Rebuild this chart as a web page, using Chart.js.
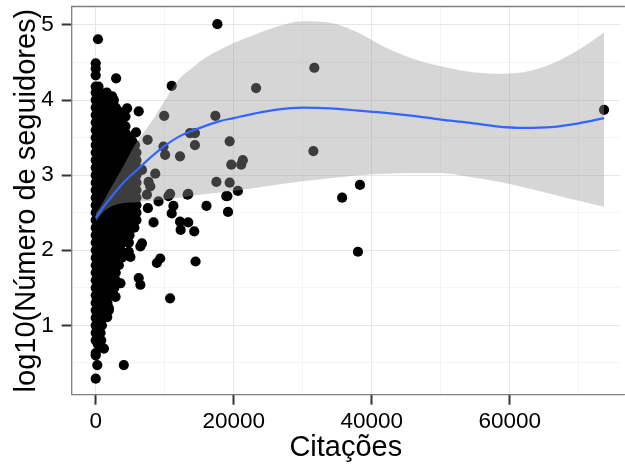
<!DOCTYPE html>
<html><head><meta charset="utf-8">
<script src="https://cdn.jsdelivr.net/npm/chart.js@4.4.1/dist/chart.umd.min.js"></script>
<style>html,body{margin:0;padding:0;background:#fff;overflow:hidden}#wrap{width:625px;height:470px;position:relative}</style>
</head><body><div id="wrap"><canvas id="c"></canvas></div>
<script>
// Tick positions
const xMajorTicks = [0, 20000, 40000, 60000];
const xMinorTicks = [10000, 30000, 50000, 70000];
const yMajorTicks = [1, 2, 3, 4, 5];
const yMinorTicks = [0.5, 1.5, 2.5, 3.5, 4.5];

// Dense cluster near zero citations
const denseCitations = [
  0, 0, 0, 0, 400, 0, 700, 1600, 2390,
  0, 900, 1900, 2630,
  450, 1400, 2400,
  0, 900, 1900, 2900,
  450, 1400, 2400, 3300,
  0, 900, 1900, 2900, 3700,
  450, 1400, 2400, 3300,
  0, 900, 1900, 2900, 3800,
  450, 1400, 2400, 3400,
  0, 900, 1900, 2900, 3900,
  450, 1400, 2400, 3400, 4400,
  0, 900, 1900, 2900, 3900, 4900,
  450, 1400, 2400, 3400, 4400, 5300,
  0, 900, 1900, 2900, 3900, 4900, 5700,
  450, 1400, 2400, 3400, 4400, 5400,
  0, 900, 1900, 2900, 3900, 4900, 5900,
  450, 1400, 2400, 3400, 4400, 5400,
  0, 900, 1900, 2900, 3900, 4900, 5900,
  450, 1400, 2400, 3400, 4400, 5400,
  0, 900, 1900, 2900, 3900, 4900, 5900,
  450, 1400, 2400, 3400, 4400, 5400,
  0, 900, 1900, 2900, 3900, 4900, 5900,
  450, 1400, 2400, 3400, 4400, 5400,
  0, 900, 1900, 2900, 3900, 4900, 5900,
  450, 1400, 2400, 3400, 4400, 5400,
  0, 900, 1900, 2900, 3900, 4900, 5900,
  450, 1400, 2400, 3400, 4400, 5400,
  0, 900, 1900, 2900, 3900, 4900, 5900,
  450, 1400, 2400, 3400, 4400, 5400,
  0, 900, 1900, 2900, 3900, 4900, 5900,
  450, 1400, 2400, 3400, 4400, 5400,
  0, 900, 1900, 2900, 3900, 4900, 5900,
  450, 1400, 2400, 3400, 4400, 5400,
  0, 900, 1900, 2900, 3900, 4900, 5900,
  450, 1400, 2400, 3400, 4400, 5300,
  0, 900, 1900, 2900, 3900, 4900, 5600,
  450, 1400, 2400, 3400, 4400,
  0, 900, 1900, 2900, 3900, 4900,
  450, 1400, 2400, 3400, 4400,
  0, 900, 1900, 2900, 3900, 4800,
  450, 1400, 2400, 3300,
  0, 900, 1900, 2900, 3600,
  450, 1400, 2400, 3300,
  0, 900, 1900, 2900, 3800,
  450, 1400, 2400,
  0, 900, 1900, 2900,
  450, 1400, 2400,
  0, 900, 1900, 2900,
  450, 1400, 2400,
  0, 900, 1900, 2900,
  450, 1400, 2300,
  0, 900, 1900, 2700,
  450, 1400, 2300,
  0, 900, 1900, 2600,
  450, 1300,
  0, 900, 1700,
  450, 1300,
  0, 900, 1900,
  450, 1300,
  0, 900,
  450,
  0, 900,
  450,
  0, 700,
  400,
  0, 800,
  300,
  0
];
const denseFollowers = [
  4.49, 4.42, 4.33, 4.18, 4.18, 4.10, 4.10, 4.10, 4.05,
  4.00, 4.00, 4.00, 4.00,
  3.95, 3.95, 3.95,
  3.90, 3.90, 3.90, 3.90,
  3.85, 3.85, 3.85, 3.85,
  3.80, 3.80, 3.80, 3.80, 3.80,
  3.75, 3.75, 3.75, 3.75,
  3.70, 3.70, 3.70, 3.70, 3.70,
  3.65, 3.65, 3.65, 3.65,
  3.60, 3.60, 3.60, 3.60, 3.60,
  3.55, 3.55, 3.55, 3.55, 3.55,
  3.50, 3.50, 3.50, 3.50, 3.50, 3.50,
  3.45, 3.45, 3.45, 3.45, 3.45, 3.45,
  3.40, 3.40, 3.40, 3.40, 3.40, 3.40, 3.40,
  3.35, 3.35, 3.35, 3.35, 3.35, 3.35,
  3.30, 3.30, 3.30, 3.30, 3.30, 3.30, 3.30,
  3.25, 3.25, 3.25, 3.25, 3.25, 3.25,
  3.20, 3.20, 3.20, 3.20, 3.20, 3.20, 3.20,
  3.15, 3.15, 3.15, 3.15, 3.15, 3.15,
  3.10, 3.10, 3.10, 3.10, 3.10, 3.10, 3.10,
  3.05, 3.05, 3.05, 3.05, 3.05, 3.05,
  3.00, 3.00, 3.00, 3.00, 3.00, 3.00, 3.00,
  2.95, 2.95, 2.95, 2.95, 2.95, 2.95,
  2.90, 2.90, 2.90, 2.90, 2.90, 2.90, 2.90,
  2.85, 2.85, 2.85, 2.85, 2.85, 2.85,
  2.80, 2.80, 2.80, 2.80, 2.80, 2.80, 2.80,
  2.75, 2.75, 2.75, 2.75, 2.75, 2.75,
  2.70, 2.70, 2.70, 2.70, 2.70, 2.70, 2.70,
  2.65, 2.65, 2.65, 2.65, 2.65, 2.65,
  2.60, 2.60, 2.60, 2.60, 2.60, 2.60, 2.60,
  2.55, 2.55, 2.55, 2.55, 2.55, 2.55,
  2.50, 2.50, 2.50, 2.50, 2.50, 2.50, 2.50,
  2.45, 2.45, 2.45, 2.45, 2.45, 2.45,
  2.40, 2.40, 2.40, 2.40, 2.40, 2.40, 2.40,
  2.35, 2.35, 2.35, 2.35, 2.35, 2.35,
  2.30, 2.30, 2.30, 2.30, 2.30, 2.30, 2.30,
  2.25, 2.25, 2.25, 2.25, 2.25,
  2.20, 2.20, 2.20, 2.20, 2.20, 2.20,
  2.15, 2.15, 2.15, 2.15, 2.15,
  2.10, 2.10, 2.10, 2.10, 2.10, 2.10,
  2.05, 2.05, 2.05, 2.05,
  2.00, 2.00, 2.00, 2.00, 2.00,
  1.95, 1.95, 1.95, 1.95,
  1.90, 1.90, 1.90, 1.90, 1.90,
  1.85, 1.85, 1.85,
  1.80, 1.80, 1.80, 1.80,
  1.75, 1.75, 1.75,
  1.70, 1.70, 1.70, 1.70,
  1.65, 1.65, 1.65,
  1.60, 1.60, 1.60, 1.60,
  1.55, 1.55, 1.55,
  1.50, 1.50, 1.50, 1.50,
  1.45, 1.45, 1.45,
  1.40, 1.40, 1.40, 1.40,
  1.35, 1.35,
  1.30, 1.30, 1.30,
  1.25, 1.25,
  1.20, 1.20, 1.20,
  1.15, 1.15,
  1.10, 1.10,
  1.05,
  1.00, 1.00,
  0.95,
  0.90, 0.90,
  0.85,
  0.80, 0.80,
  0.75,
  0.60
];

// Individually visible points
const sparseCitations = [
  330, 17630, 2960, 11010, 4550, 4310, 4310, 6230, 5840, 4070, 4790,
  9920, 17340, 7520, 9820, 10060, 13660, 14380, 14380, 12220, 19410, 23240,
  21320, 21080, 19640, 17490, 19410, 20600, 18920, 13410, 7660, 7910, 5750,
  8630, 6700, 10780, 7420, 10540, 13310, 9100, 11260, 11010, 16050, 19070,
  19170, 12220, 13410, 12310, 14280, 8380, 7560, 14470, 9350, 8860, 10780,
  6230, 6470, 3590, 4070, 0, 230, 0, 1190, 1670, 1910, 2880, 3350, 6700,
  6470, 5030, 4790, 3590, 31680, 31540, 38290, 35710, 38000, 73660
];
const sparseFollowers = [
  4.81, 5.01, 4.29, 4.19, 3.89, 3.78, 3.65, 3.85, 3.57, 3.47, 3.36,
  3.79, 3.79, 3.47, 3.38, 3.27, 3.56, 3.56, 3.40, 3.25, 3.45, 4.16,
  3.20, 3.14, 3.14, 2.91, 2.90, 2.79, 2.72, 2.75, 2.91, 2.85, 3.16,
  3.02, 3.07, 2.75, 2.74, 2.72, 2.74, 2.65, 2.59, 2.49, 2.59, 2.72,
  2.51, 2.38, 2.37, 2.27, 2.25, 2.37, 2.56, 1.85, 1.89, 1.83, 1.36,
  1.63, 1.54, 1.56, 0.47, 0.29, 0.47, 0.63, 0.69, 1.11, 1.23, 1.38, 1.80, 2.09,
  2.05, 1.91, 1.98, 2.00, 4.43, 3.32, 2.87, 2.70, 1.98, 3.87
];

// Smoothed (loess) fit with confidence band
const smoothX     = [0, 1000, 2000, 4000, 6000, 8000, 10000, 12000, 14000, 16000, 18000, 20000, 23000, 26000, 30000, 34000, 38000, 42000, 46000, 50000, 54000, 58000, 62000, 66000, 70000, 73660];
const smoothFit   = [2.43, 2.56, 2.68, 2.90, 3.07, 3.24, 3.39, 3.51, 3.59, 3.66, 3.72, 3.76, 3.82, 3.87, 3.90, 3.89, 3.86, 3.83, 3.79, 3.74, 3.70, 3.65, 3.63, 3.64, 3.69, 3.76];
const smoothLower = [2.38, 2.50, 2.57, 2.63, 2.64, 2.66, 2.68, 2.70, 2.73, 2.75, 2.77, 2.79, 2.83, 2.87, 2.92, 2.96, 3.00, 3.02, 3.03, 3.03, 2.98, 2.92, 2.84, 2.75, 2.66, 2.58];
const smoothUpper = [2.49, 2.63, 2.80, 3.12, 3.45, 3.70, 3.99, 4.27, 4.43, 4.57, 4.67, 4.76, 4.87, 4.97, 5.05, 5.03, 4.90, 4.70, 4.55, 4.45, 4.38, 4.35, 4.37, 4.48, 4.67, 4.90];

const toPts = (xs, ys) => xs.map((x, i) => ({x: x, y: ys[i]}));

const panelBorder = {
  id: 'panelBorder',
  afterDatasetsDraw(chart) {
    const {ctx, chartArea: a} = chart;
    ctx.save();
    ctx.strokeStyle = '#7f7f7f';
    ctx.lineWidth = 1.3;
    ctx.beginPath();
    ctx.moveTo(a.right + 5, a.top);
    ctx.lineTo(a.left, a.top);
    ctx.lineTo(a.left, a.bottom);
    ctx.lineTo(a.right + 5, a.bottom);
    ctx.stroke();
    ctx.restore();
  }
};

const FONT = "'Liberation Sans', Arial, sans-serif";
Chart.defaults.font.family = FONT;
Chart.defaults.color = '#000';

new Chart(document.getElementById('c'), {
  type: 'scatter',
  data: {
    datasets: [
      {
        label: 'fit', data: toPts(smoothX, smoothFit), showLine: true,
        borderColor: '#3366FF', borderWidth: 2.2, pointRadius: 0, fill: false,
        cubicInterpolationMode: 'monotone', order: 1
      },
      {
        label: 'upper', data: toPts(smoothX, smoothUpper), showLine: true,
        borderWidth: 0, borderColor: 'rgba(0,0,0,0)', pointRadius: 0,
        backgroundColor: 'rgba(153,153,153,0.4)', fill: '+1',
        cubicInterpolationMode: 'monotone', order: 2
      },
      {
        label: 'lower', data: toPts(smoothX, smoothLower), showLine: true,
        borderWidth: 0, borderColor: 'rgba(0,0,0,0)', pointRadius: 0, fill: false,
        cubicInterpolationMode: 'monotone', order: 2
      },
      {
        label: 'dense', data: toPts(denseCitations, denseFollowers),
        backgroundColor: '#000', borderWidth: 0, pointRadius: 5.1, order: 5
      },
      {
        label: 'sparse', data: toPts(sparseCitations, sparseFollowers),
        backgroundColor: '#000', borderWidth: 0, pointRadius: 5.1, order: 5
      }
    ]
  },
  options: {
    responsive: true, maintainAspectRatio: false, animation: false, events: [],
    layout: {padding: {top: 6.5, right: 0, left: 0, bottom: 0}},
    plugins: {legend: {display: false}, tooltip: {enabled: false}},
    scales: {
      x: {
        type: 'linear', min: -3480, max: 75960,
        border: {display: false},
        afterBuildTicks: s => { s.ticks = [...xMajorTicks, ...xMinorTicks].sort((a, b) => a - b).map(v => ({value: v})); },
        afterFit: s => { s.height = 75.3; s.paddingLeft = 0; s.paddingRight = 0; },
        grid: {
          color: c => xMajorTicks.includes(c.tick && c.tick.value) ? '#e6e6e6' : '#f4f4f4',
          lineWidth: 1, tickLength: 10, tickWidth: 2,
          tickColor: c => xMajorTicks.includes(c.tick && c.tick.value) ? '#333' : 'rgba(0,0,0,0)'
        },
        ticks: {
          autoSkip: false, maxRotation: 0, padding: 4, color: '#000',
          font: {size: 22.5},
          callback: v => xMajorTicks.includes(v) ? String(v) : ''
        },
        title: {display: true, text: 'Citações', color: '#000', font: {size: 29}, padding: {top: 0, bottom: 5}}
      },
      y: {
        type: 'linear', min: 0.076, max: 5.246,
        border: {display: false},
        afterBuildTicks: s => { s.ticks = [...yMinorTicks, ...yMajorTicks].sort((a, b) => a - b).map(v => ({value: v})); },
        afterFit: s => { s.width = 71.7; s.paddingTop = 0; s.paddingBottom = 0; },
        grid: {
          color: c => yMajorTicks.includes(c.tick && c.tick.value) ? '#e6e6e6' : '#f4f4f4',
          lineWidth: 1, tickLength: 10, tickWidth: 2,
          tickColor: c => yMajorTicks.includes(c.tick && c.tick.value) ? '#333' : 'rgba(0,0,0,0)'
        },
        ticks: {
          autoSkip: false, padding: 8, color: '#000',
          font: {size: 22.5},
          callback: v => yMajorTicks.includes(v) ? String(v) : ''
        },
        title: {display: true, text: 'log10(Número de seguidores)', color: '#000', font: {size: 29}, padding: {top: 10, bottom: 0}}
      }
    }
  },
  plugins: [panelBorder]
});
</script>
</body></html>
